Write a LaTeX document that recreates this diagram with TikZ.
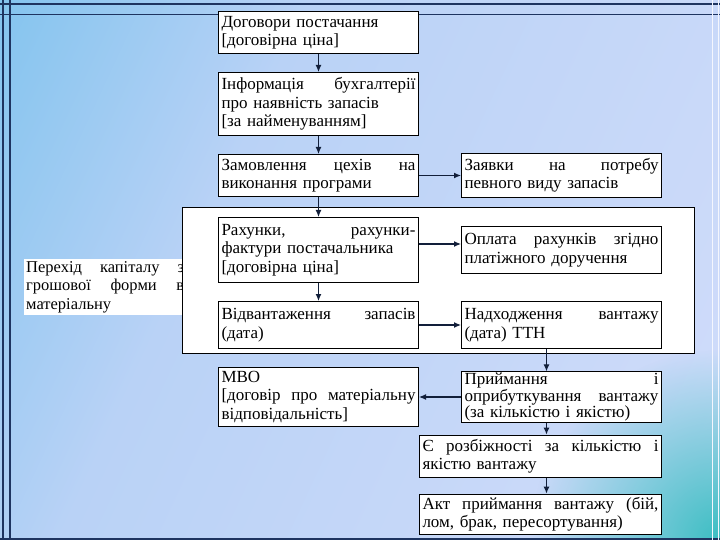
\documentclass[tikz,border=0pt]{standalone}
\usepackage{fontspec}
\setmainfont{Liberation Serif}
\usetikzlibrary{arrows.meta, positioning, fadings}
\definecolor{bgsky}{RGB}{90,185,232}
\definecolor{bgmid}{RGB}{185,210,246}
\definecolor{bglav}{RGB}{218,224,252}
\definecolor{cornerteal}{RGB}{60,190,195}
\definecolor{framenavy}{RGB}{30,52,96}
\pgfdeclarehorizontalshading{slideshade}{100bp}{color(0bp)=(bgsky); color(38bp)=(bgmid); color(100bp)=(bglav)}
\tikzfading[name=cornerfade, inner color=transparent!0, outer color=transparent!100]

\begin{document}
\begin{tikzpicture}[x=1pt, y=-1pt,
    node distance=18pt and 42pt,
    box/.style={rectangle, draw=black, fill=white, line width=1pt, text width=194pt, inner sep=3pt, align=left, font=\fontsize{17}{18.5}\selectfont},
    widebox/.style={box, text width=236pt},
    group/.style={rectangle, draw=black, fill=white, line width=1pt, minimum width=512pt, minimum height=146pt, inner sep=0pt},
    note/.style={rectangle, fill=white, text width=158pt, inner sep=2pt, align=left, font=\fontsize{16.5}{18.5}\selectfont},
    arrow/.style={draw=framenavy!60!black, line width=1.2pt, -{Latex[length=7pt, width=6pt]}},
    frameline/.style={draw=framenavy, line width=1.6pt}]
\useasboundingbox (0,0) rectangle (720,540);
% background
\shade[shading=slideshade, shading angle=-25] (0,0) rectangle (720,540);
\begin{scope}
\clip (0,0) rectangle (720,540);
\fill[cornerteal, path fading=cornerfade] (720,540) circle (190pt);
\end{scope}
% frame
\draw[frameline] (0,4) -- (720,4);
\draw[frameline] (0,14.5) -- (720,14.5);
\draw[frameline] (3,0) -- (3,540);
\draw[frameline] (10,0) -- (10,540);
\draw[frameline] (0,539) -- (720,539);
\draw[white!70!bglav, line width=1pt] (712,0) -- (712,540);
\draw[white!70!bglav, line width=1pt] (718,0) -- (718,540);

\node[note, anchor=north west] (capital) at (24,259) {Перехід\hfill капіталу\hfill з\\грошової\hfill форми\hfill в\\матеріальну};
\node[group, anchor=north west] (grp) at (182,207) {};

\node[box, anchor=north west, minimum height=42pt] (b1) at (218,11) {Договори постачання\\{[}договірна ціна{]}};
\node[box, below=of b1, minimum height=63pt] (b2) {Інформація\hfill бухгалтерії\\про наявність запасів\\{[}за найменуванням{]}};
\node[box, below=of b2, minimum height=42pt] (b3) {Замовлення\hfill цехів\hfill на\\виконання програми};
\node[box, right=of b3, minimum height=44pt] (b4) {Заявки\hfill на\hfill потребу\\певного виду запасів};
\node[box, below=20pt of b3, minimum height=65pt] (b5) {Рахунки,\hfill рахунки-\\фактури постачальника\\{[}договірна ціна{]}};
\node[box, right=of b5, minimum height=47pt] (b6) {Оплата\hfill рахунків\hfill згідно\\платіжного доручення};
\node[box, below=of b5, minimum height=47pt] (b7) {Відвантаження\hfill запасів\\(дата)};
\node[box, right=of b7, minimum height=47pt] (b8) {Надходження\hfill вантажу\\(дата) ТТН};
\node[box, below=of b7, minimum height=59pt] (b9) {МВО\\{[}договір\hfill про\hfill матеріальну\\відповідальність{]}};
\node[box, right=of b9, inner ysep=1pt, font=\fontsize{17}{16.5}\selectfont] (b10) {Приймання\hfill і\\оприбуткування\hfill вантажу\\(за кількістю і якістю)};
\node[widebox, below left=12pt and 0pt of b10.south east, minimum height=42pt] (b11) {Є\hfill розбіжності\hfill за\hfill кількістю\hfill і\\якістю вантажу};
\node[widebox, below=16pt of b11, minimum height=40pt] (b12) {Акт\hfill приймання\hfill вантажу\hfill (бій,\\лом, брак, пересортування)};

\draw[arrow] (b1) -- (b2);
\draw[arrow] (b2) -- (b3);
\draw[arrow] (b3) -- (b5);
\draw[arrow] (b5) -- (b7);
\draw[arrow] (b3.east) -- (b3.east -| b4.west);
\draw[arrow] ([yshift=6pt]b5.east) -- ([yshift=6pt]b5.east -| b6.west);
\draw[arrow] (b7.east) -- (b7.east -| b8.west);
\draw[arrow] ([xshift=-15pt]b8.south) -- ([xshift=-15pt]b10.north);
\draw[arrow] (b10.west) -- (b10.west -| b9.east);
\draw[arrow] ([xshift=-15pt]b10.south) -- ([xshift=-15pt]b10.south |- b11.north);
\draw[arrow] ([xshift=6pt]b11.south) -- ([xshift=6pt]b12.north);
\end{tikzpicture}
\end{document}
